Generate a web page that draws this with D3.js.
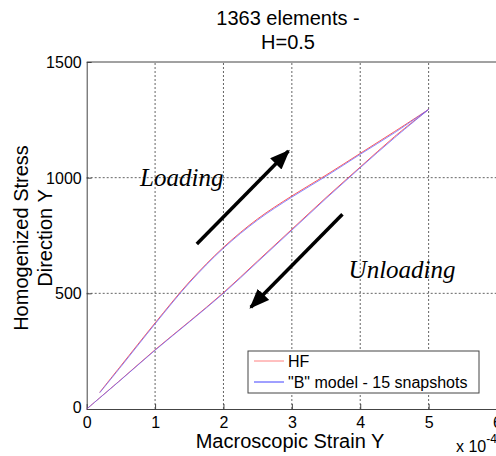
<!DOCTYPE html>
<html><head><meta charset="utf-8">
<script src="https://cdn.jsdelivr.net/npm/d3@7"></script>
<style>
  body { margin: 0; background: #fff; }
  svg { display: block; font-family: "Liberation Sans", Arial, sans-serif; }
  .grid line { stroke: #222; stroke-width: 0.7; stroke-dasharray: 2,2; }
  .axis path, .axis line { stroke: #444; }
  .axis text { font-size: 16px; fill: #000; font-family: "Liberation Sans", Arial, sans-serif; }
  .note { font-family: "Liberation Serif", "DejaVu Serif", serif; font-style: italic; font-size: 25px; }
</style>
</head><body>
<svg width="496" height="456"></svg>
<script>
// data (strain in 1e-4 units)
var strainLoad   = [0.19, 0.5, 1, 1.5, 2, 2.5, 3, 3.5, 4, 4.5, 5];
var hfLoad       = [72, 187, 372, 549, 699, 822, 921, 1011, 1105, 1199, 1295];
var bLoad        = [70, 183, 368, 545, 695, 817, 916, 1006, 1101, 1194, 1295];
var strainUnload = [5, 4.5, 4, 3.5, 3, 2.5, 2, 1.5, 1, 0.5, 0];
var hfUnload     = [1295, 1177, 1046, 914, 777, 640, 503, 378, 256, 127, 0];
var bUnload      = [1295, 1172, 1043, 910, 773, 636, 500, 376, 254, 126, 0];
var xTicks = [0, 1, 2, 3, 4, 5, 6];
var yTicks = [0, 500, 1000, 1500];
var titleLines = ["1363 elements -", "H=0.5"];
var legendNames = ["HF", "\"B\" model - 15 snapshots"];
// annotations in data units
var arrows = [
  {from: [1.61, 713], to: [2.95, 1115]},
  {from: [3.74, 842], to: [2.40, 440]}
];
var notes = [
  {text: "Loading", at: [0.78, 965]},
  {text: "Unloading", at: [3.83, 565]}
];

var svg = d3.select("svg");
var x = d3.scaleLinear().domain([0, 6]).range([86.7, 497]);
var y = d3.scaleLinear().domain([0, 1500]).range([409, 62]);

// grid
var grid = svg.append("g").attr("class", "grid");
grid.selectAll(".gx").data(xTicks.slice(1, -1)).enter().append("line")
  .attr("x1", d => x(d)).attr("x2", d => x(d)).attr("y1", y(0)).attr("y2", y(1500));
grid.selectAll(".gy").data(yTicks.slice(1, -1)).enter().append("line")
  .attr("x1", x(0)).attr("x2", x(6)).attr("y1", d => y(d)).attr("y2", d => y(d));

// axes
var gx = svg.append("g").attr("class", "axis").attr("transform", "translate(0," + y(0) + ")")
  .call(d3.axisBottom(x).tickValues(xTicks).tickFormat(d3.format("d"))
    .tickSizeInner(-5).tickSizeOuter(0).tickPadding(8));
var gy = svg.append("g").attr("class", "axis").attr("transform", "translate(" + x(0) + ",0)")
  .call(d3.axisLeft(y).tickValues(yTicks).tickFormat(d3.format("d"))
    .tickSizeInner(-5).tickSizeOuter(0).tickPadding(5));
svg.append("line").attr("x1", x(0)).attr("x2", x(6)).attr("y1", y(1500)).attr("y2", y(1500))
  .attr("stroke", "#444");
gy.selectAll("text").attr("dy", "0.35em");
gy.selectAll("text").filter(d => d === 0).attr("dy", "0.2em");

// curves
var line = d3.line().x(d => x(d[0])).y(d => y(d[1])).curve(d3.curveCatmullRom);
function pts(xs, ys) { return xs.map((v, i) => [v, ys[i]]); }
var plot = svg.append("g");
[pts(strainLoad, hfLoad), pts(strainUnload, hfUnload)].forEach(function(p) {
  plot.append("path").attr("d", line(p)).attr("fill", "none").attr("stroke", "#ff3030").attr("stroke-width", 0.8);
});
[pts(strainLoad, bLoad), pts(strainUnload, bUnload)].forEach(function(p) {
  plot.append("path").attr("d", line(p)).attr("fill", "none").attr("stroke", "#6a6aff").attr("stroke-width", 0.8);
});

// arrows
svg.append("defs").append("marker").attr("id", "head")
  .attr("markerUnits", "userSpaceOnUse").attr("viewBox", "0 0 20 16")
  .attr("refX", 18).attr("refY", 8).attr("markerWidth", 20).attr("markerHeight", 16)
  .attr("orient", "auto")
  .append("path").attr("d", "M0,0 L20,8 L0,16 Z").attr("fill", "#000");
arrows.forEach(function(a) {
  svg.append("line").attr("x1", x(a.from[0])).attr("y1", y(a.from[1]))
    .attr("x2", x(a.to[0])).attr("y2", y(a.to[1]))
    .attr("stroke", "#000").attr("stroke-width", 3.5).attr("marker-end", "url(#head)");
});
notes.forEach(function(n) {
  svg.append("text").attr("class", "note").attr("x", x(n.at[0])).attr("y", y(n.at[1])).text(n.text);
});

// title
svg.append("g").selectAll("text").data(titleLines).enter().append("text")
  .attr("x", 288).attr("y", (d, i) => 25 + i * 24).attr("text-anchor", "middle")
  .attr("font-size", 20).text(d => d);

// axis labels
svg.append("text").attr("x", 290).attr("y", 448).attr("text-anchor", "middle")
  .attr("font-size", 20).text("Macroscopic Strain Y");
var xm = svg.append("text").attr("x", 456).attr("y", 452).attr("font-size", 16);
xm.append("tspan").text("x 10");
xm.append("tspan").attr("dy", -9).attr("font-size", 12).text("-4");
var yl = svg.append("text").attr("transform", "translate(28,238) rotate(-90)")
  .attr("text-anchor", "middle").attr("font-size", 20);
yl.append("tspan").attr("x", 0).attr("y", 0).text("Homogenized Stress");
yl.append("tspan").attr("x", 0).attr("y", 24).text("Direction Y");

// legend
var lg = svg.append("g").attr("transform", "translate(248,351)");
lg.append("rect").attr("width", 231).attr("height", 42).attr("fill", "#fff").attr("stroke", "#444");
var lcol = ["#ff8080", "#4040ff"];
legendNames.forEach(function(name, i) {
  lg.append("line").attr("x1", 6).attr("x2", 36).attr("y1", 10 + i * 21).attr("y2", 10 + i * 21)
    .attr("stroke", lcol[i]).attr("stroke-width", 1);
  lg.append("text").attr("x", 40).attr("y", 16 + i * 21).attr("font-size", 16).text(name);
});
</script>
</body></html>
